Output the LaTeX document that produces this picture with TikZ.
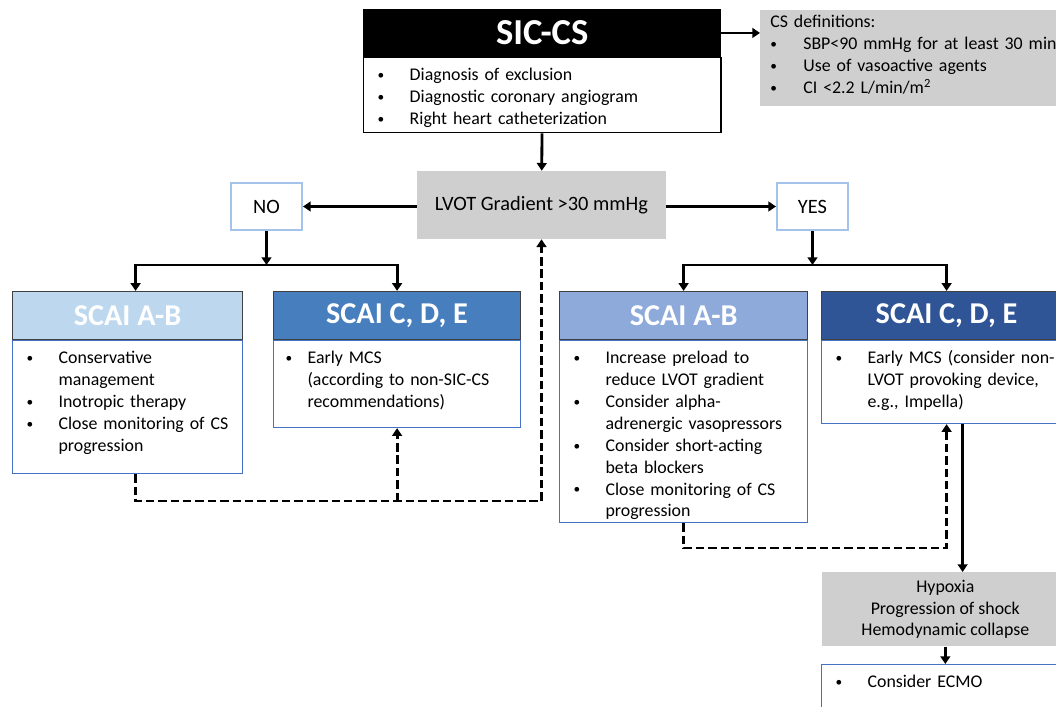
\documentclass[tikz,border=0pt]{standalone}
\usepackage{fontspec}
\setmainfont{Carlito}
\usetikzlibrary{arrows.meta,positioning}
\definecolor{frameblue}{RGB}{68,114,196}
\definecolor{choiceblue}{RGB}{165,194,234}
\definecolor{boxgrey}{RGB}{208,207,207}
\definecolor{abno}{RGB}{189,215,238}
\definecolor{cdeno}{RGB}{70,126,190}
\definecolor{abyes}{RGB}{142,170,219}
\definecolor{cdeyes}{RGB}{47,85,151}
\newcommand{\bodyfont}{\fontsize{12.7}{15.6}\selectfont}
\newcommand{\bitem}[2][0.8cm]{\noindent\hangindent=#1\hangafter=1\makebox[#1][l]{\raisebox{0.8pt}{\fontsize{9.5}{9.5}\selectfont\textbullet}}#2\par}
\tikzset{
    arr/.style = {line width=2pt, -{Triangle[length=5.5pt,width=7pt]}},
    dblarr/.style = {arr, {Triangle[length=5.5pt,width=7pt]}-{Triangle[length=5.5pt,width=7pt]}},
    fback/.style = {arr, dash pattern=on 6pt off 2.8pt},
    head/.style = {draw=black!75, line width=0.8pt, minimum height=1.2cm, inner sep=0pt,
        text=white, font=\fontsize{21.5}{24}\selectfont\bfseries},
    body/.style = {draw=frameblue, line width=0.8pt, fill=white, anchor=north west,
        inner xsep=0.35cm, inner ysep=0.25cm, text height=0.32cm, font=\bodyfont},
    choice/.style = {draw=choiceblue, line width=1.4pt, fill=white, minimum width=1.775cm,
        minimum height=1.175cm, font=\fontsize{14.5}{17}\selectfont},
    greybox/.style = {fill=boxgrey, inner sep=0pt, font=\bodyfont}
}
\begin{document}
\begin{tikzpicture}[x=0.025cm, y=-0.025cm, line join=miter]
\useasboundingbox (0,0) rectangle (1056,706);
\clip (0,0) rectangle (1056,706);

% top
\node[body, draw=black, line width=1pt, text width=8.225cm, text depth=1.055cm] (sic) at (363,57)
    {\bitem{Diagnosis of exclusion}\bitem{Diagnostic coronary angiogram}\bitem{Right heart catheterization}};
\node[head, fill=black, draw=black, minimum width=8.925cm, minimum height=1.175cm,
    font=\fontsize{26}{30}\selectfont\bfseries, above=0pt of sic] (sic-head) {SIC-CS};
\node[greybox, anchor=north west, inner xsep=0.25cm, inner ysep=0.12cm, text width=7.5cm,
    text height=0.32cm, text depth=1.84cm] (csdef) at (760,10)
    {CS definitions:\par\bitem[0.825cm]{SBP<90 mmHg for at least 30 min}\bitem[0.825cm]{Use of vasoactive agents}\bitem[0.825cm]{CI <2.2 L/min/m\textsuperscript{2}}};
\node[greybox, minimum width=6.225cm, minimum height=1.7cm, font=\fontsize{14.5}{17}\selectfont] (lvot) at (541.5,205) {LVOT Gradient >30 mmHg};
\node[choice] (no) at (266.5,206.5) {NO};
\node[choice] (yes) at (812.5,206.5) {YES};

% NO branch
\node[body, text width=5.05cm, text depth=2.505cm] (bodyAL) at (12,340)
    {\bitem{Conservative\newline management}\bitem{Inotropic therapy}\bitem{Close monitoring of CS\newline progression}};
\node[head, fill=abno, minimum width=5.75cm, above=0pt of bodyAL] (headAL) {SCAI A-B};
\node[body, inner xsep=0.3cm, text width=5.575cm, text depth=1.355cm] (bodyCL) at (273,340)
    {\bitem[0.55cm]{Early MCS\newline (according to non-SIC-CS\newline recommendations)}};
\node[head, fill=cdeno, minimum width=6.175cm, above=0pt of bodyCL] (headCL) {SCAI C, D, E};

% YES branch
\node[body, text width=5.5cm, text depth=3.73cm] (bodyAR) at (559,340)
    {\bitem{Increase preload to\newline reduce LVOT gradient}\bitem{Consider alpha-\newline adrenergic vasopressors}\bitem{Consider short-acting\newline beta blockers}\bitem{Close monitoring of CS\newline progression}};
\node[head, fill=abyes, minimum width=6.2cm, above=0pt of bodyAR] (headAR) {SCAI A-B};
\node[body, text width=5.55cm, text depth=1.255cm] (bodyCR) at (821,340)
    {\bitem{Early MCS (consider non-\newline LVOT provoking device,\newline e.g., Impella)}};
\node[head, fill=cdeyes, minimum width=6.25cm, above=0pt of bodyCR] (headCR) {SCAI C, D, E};
\node[greybox, anchor=north west, minimum width=6.15cm, minimum height=1.85cm, align=center] (hypox) at (822,572)
    {Hypoxia\\Progression of shock\\Hemodynamic collapse};
\node[body, text width=5.55cm, text depth=1cm] (ecmo) at (821,664) {\bitem{Consider ECMO}};

\coordinate (splitno) at (266,265);
\coordinate (splityes) at (812,265);
\coordinate (fbno) at (300,501);
\coordinate (fbyes) at (800,548);
\coordinate (drop) at ([xshift=0.4cm]bodyCR.south);

\draw[arr] (sic-head.east) -- (sic-head.east -| csdef.west);
\draw[arr] (sic) -- (lvot);
\draw[arr] (no.east -| lvot.west) -- (no.east);
\draw[arr] (yes.west -| lvot.east) -- (yes.west);
\draw[arr] (no) -- (no |- splitno);
\draw[arr] (yes) -- (yes |- splityes);
\draw[dblarr] ([xshift=0.2cm]headAL.north) |- (splitno) -| (headCL.north);
\draw[dblarr] (headAR.north) |- (splityes) -| (headCR.north);
\draw[fback] ([xshift=0.2cm]bodyAL.south) |- (lvot.south |- fbno) -- (lvot.south);
\draw[fback] (bodyCL.south |- fbno) -- (bodyCL.south);
\draw[fback] (bodyAR.south) |- (bodyCR.south |- fbyes) -- (bodyCR.south);
\draw[arr] (drop) -- (drop |- hypox.north);
\draw[arr] (hypox.south) -- (hypox.south |- ecmo.north);
\end{tikzpicture}
\end{document}
